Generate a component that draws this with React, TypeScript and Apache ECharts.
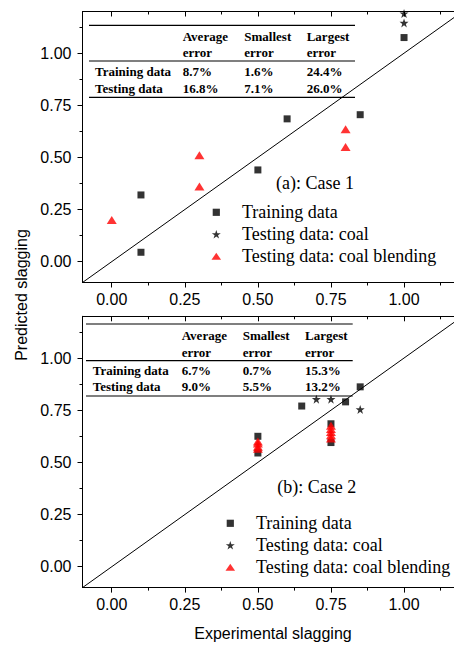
import React, { useEffect, useRef } from "react";
import * as echarts from "echarts";

// ---- Data ----
const xMajor = [0, 0.25, 0.5, 0.75, 1.0];
const xMinor = [0.125, 0.375, 0.625, 0.875, 1.125];
const yMajor = [0, 0.25, 0.5, 0.75, 1.0];
const yMinor = [0.125, 0.375, 0.625, 0.875, 1.125];
const diagonal: [number, number][] = [[-0.1, -0.1], [1.2, 1.2]];

const caseATraining: [number, number][] = [[0.1, 0.32], [0.1, 0.045], [0.5, 0.44], [0.6, 0.685], [0.85, 0.705], [1.0, 1.075]];
const caseACoal: [number, number][] = [[1.0, 1.19], [1.0, 1.145]];
const caseABlending: [number, number][] = [[0, 0.2], [0.3, 0.51], [0.3, 0.36], [0.8, 0.635], [0.8, 0.55]];

const caseBTraining: [number, number][] = [[0.5, 0.625], [0.5, 0.545], [0.65, 0.77], [0.75, 0.685], [0.75, 0.595], [0.8, 0.79], [0.85, 0.862]];
const caseBCoal: [number, number][] = [[0.7, 0.803], [0.75, 0.803], [0.85, 0.754]];
const caseBBlending: [number, number][] = [[0.5, 0.6], [0.5, 0.59], [0.5, 0.575], [0.5, 0.565], [0.75, 0.675], [0.75, 0.66], [0.75, 0.645], [0.75, 0.63], [0.75, 0.615]];

const seriesNames = ["Training data", "Testing data: coal", "Testing data: coal blending"];
const caseLabels = ["(a): Case 1", "(b): Case 2"];
const errorColumns = ["Average", "Smallest", "Largest"];
const caseARows = [["Training data", "8.7%", "1.6%", "24.4%"], ["Testing data", "16.8%", "7.1%", "26.0%"]];
const caseBRows = [["Training data", "6.7%", "0.7%", "15.3%"], ["Testing data", "9.0%", "5.5%", "13.2%"]];
const xTitle = "Experimental slagging";
const yTitle = "Predicted slagging";

// ---- Styling ----
const SANS = '"Liberation Sans", Arial, sans-serif';
const SERIF = '"Liberation Serif", "Times New Roman", serif';
const STAR = "path://M5 0.3L6.2 3.8L9.8 3.8L6.9 6L8 9.6L5 7.4L2 9.6L3.1 6L0.2 3.8L3.8 3.8Z";
const ICON_SQUARE = "path://M0 0M10 10M1.4 1.4H8.6V8.6H1.4Z";
const ICON_STAR = "path://M0 0M10 10M5 0.8L6.1 4L9.5 4L6.7 6L7.8 9.3L5 7.3L2.2 9.3L3.3 6L0.5 4L3.9 4Z";
const ICON_TRI = "path://M0 0M10 10M5 1.5L9.8 8.5L0.2 8.5Z";

const grids = [
  { left: 82.5, top: 11.5, width: 380, height: 271 },
  { left: 82.5, top: 316.3, width: 380, height: 271.3 },
];

const lineStyle = { color: "#000", width: 1 };

function xAxesFor(g: number) {
  const base = { gridIndex: g, type: "value", min: -0.1, max: 1.2, splitLine: { show: false } };
  return [
    {
      ...base, position: "bottom",
      axisLine: { show: true, onZero: false, lineStyle },
      axisTick: { show: true, inside: false, length: 5, customValues: xMajor, lineStyle },
      axisLabel: { show: true, customValues: xMajor, margin: 9, fontSize: 16, fontFamily: SANS, color: "#000", formatter: (v: number) => v.toFixed(2) },
    },
    {
      ...base, position: "bottom",
      axisLine: { show: false, onZero: false },
      axisTick: { show: true, inside: false, length: 3, customValues: xMinor, lineStyle },
      axisLabel: { show: false },
    },
    {
      ...base, position: "top",
      axisLine: { show: true, onZero: false, lineStyle },
      axisTick: { show: true, inside: true, length: 5, customValues: xMajor, lineStyle },
      axisLabel: { show: false },
    },
    {
      ...base, position: "top",
      axisLine: { show: false, onZero: false },
      axisTick: { show: true, inside: true, length: 3, customValues: xMinor, lineStyle },
      axisLabel: { show: false },
    },
  ];
}

function yAxesFor(g: number) {
  const base = { gridIndex: g, type: "value", min: -0.1, max: 1.2, splitLine: { show: false } };
  return [
    {
      ...base, position: "left",
      axisLine: { show: true, onZero: false, lineStyle },
      axisTick: { show: true, inside: false, length: 5, customValues: yMajor, lineStyle },
      axisLabel: { show: true, customValues: yMajor, margin: 11, fontSize: 16, fontFamily: SANS, color: "#000", formatter: (v: number) => v.toFixed(2) },
    },
    {
      ...base, position: "left",
      axisLine: { show: false, onZero: false },
      axisTick: { show: true, inside: false, length: 3, customValues: yMinor, lineStyle },
      axisLabel: { show: false },
    },
    {
      ...base, position: "right",
      axisLine: { show: true, onZero: false, lineStyle },
      axisTick: { show: false },
      axisLabel: { show: false },
    },
  ];
}

function seriesFor(g: number, training: [number, number][], coal: [number, number][], blending: [number, number][]) {
  const xi = g * 4;
  const yi = g * 3;
  return [
    {
      type: "line", xAxisIndex: xi, yAxisIndex: yi, data: diagonal, symbol: "none",
      lineStyle: { color: "#000", width: 1 }, silent: true, z: 1,
    },
    {
      name: seriesNames[0], type: "scatter", xAxisIndex: xi, yAxisIndex: yi, data: training,
      symbol: "rect", symbolSize: 7, itemStyle: { color: "#000" }, z: 3,
    },
    {
      name: seriesNames[1], type: "scatter", xAxisIndex: xi, yAxisIndex: yi, data: coal,
      symbol: STAR, symbolSize: 9, itemStyle: { color: "#000" }, z: 3,
    },
    {
      name: seriesNames[2], type: "scatter", xAxisIndex: xi, yAxisIndex: yi, data: blending,
      symbol: "triangle", symbolSize: [10, 8], itemStyle: { color: "#ff0000" }, z: 4,
    },
  ];
}

function legendFor(left: number, top: number) {
  const icons = [ICON_SQUARE, ICON_STAR, ICON_TRI];
  return {
    orient: "vertical", left, top, padding: 0, itemGap: 0,
    itemWidth: 41.4, itemHeight: 10, selectedMode: false,
    data: seriesNames.map((n, i) => ({ name: n, icon: icons[i] })),
    textStyle: { fontFamily: SERIF, fontSize: 18, color: "#000", lineHeight: 22 },
  };
}

function tableGraphic(rows: string[][], x1: number, x2: number, lineYs: number[], rowLabelX: number, colXs: number[], headY1: number, headY2: number, rowYs: number[]) {
  const els: any[] = [];
  const font = `bold 13px ${SERIF}`;
  lineYs.forEach((y) => {
    els.push({ type: "line", shape: { x1, y1: y, x2, y2: y }, style: { stroke: "#000", lineWidth: 1.2 }, z: 10 });
  });
  errorColumns.forEach((c, i) => {
    els.push({ type: "text", x: colXs[i], y: headY1, style: { text: c, font, fill: "#000", align: "left", verticalAlign: "middle" }, z: 10 });
    els.push({ type: "text", x: colXs[i], y: headY2, style: { text: "error", font, fill: "#000", align: "left", verticalAlign: "middle" }, z: 10 });
  });
  rows.forEach((r, ri) => {
    els.push({ type: "text", x: rowLabelX, y: rowYs[ri], style: { text: r[0], font, fill: "#000", align: "left", verticalAlign: "middle" }, z: 10 });
    for (let ci = 1; ci < r.length; ci++) {
      els.push({ type: "text", x: colXs[ci - 1], y: rowYs[ri], style: { text: r[ci], font, fill: "#000", align: "left", verticalAlign: "middle" }, z: 10 });
    }
  });
  return els;
}

export default function App() {
  const ref = useRef<HTMLDivElement>(null);
  useEffect(() => {
    if (!ref.current) return;
    const chart = echarts.init(ref.current, undefined, { renderer: "svg" });
    const option: any = {
      animation: false,
      backgroundColor: "#fff",
      grid: grids,
      xAxis: [...xAxesFor(0), ...xAxesFor(1)],
      yAxis: [...yAxesFor(0), ...yAxesFor(1)],
      legend: [legendFor(211.3, 201.3), legendFor(225.3, 512.3)],
      series: [
        ...seriesFor(0, caseATraining, caseACoal, caseABlending),
        ...seriesFor(1, caseBTraining, caseBCoal, caseBBlending),
      ],
      graphic: [
        ...tableGraphic(caseARows, 89, 355, [25.3, 61, 97.3], 95, [182.7, 244.3, 306.7], 36, 52, [71.5, 88]),
        ...tableGraphic(caseBRows, 86, 352.7, [324, 360.7, 396], 92.7, [181.7, 242.7, 305], 335, 352, [370, 386.7]),
        { type: "text", x: 315, y: 183.3, style: { text: caseLabels[0], font: `18px ${SERIF}`, fill: "#000", align: "center", verticalAlign: "middle" }, z: 10 },
        { type: "text", x: 316.7, y: 487.3, style: { text: caseLabels[1], font: `18px ${SERIF}`, fill: "#000", align: "center", verticalAlign: "middle" }, z: 10 },
        { type: "text", x: 273, y: 633, style: { text: xTitle, font: `16px ${SANS}`, fill: "#000", align: "center", verticalAlign: "middle" }, z: 10 },
        { type: "text", x: 21, y: 295, rotation: Math.PI / 2, style: { text: yTitle, font: `16px ${SANS}`, fill: "#000", align: "center", verticalAlign: "middle" }, z: 10 },
      ],
    };
    chart.setOption(option);
    return () => chart.dispose();
  }, []);
  return (
    <div style={{ position: "fixed", left: 0, top: 0, width: 454, height: 649, overflow: "hidden", background: "#fff" }}>
      <div ref={ref} style={{ width: 480, height: 649 }} />
    </div>
  );
}
